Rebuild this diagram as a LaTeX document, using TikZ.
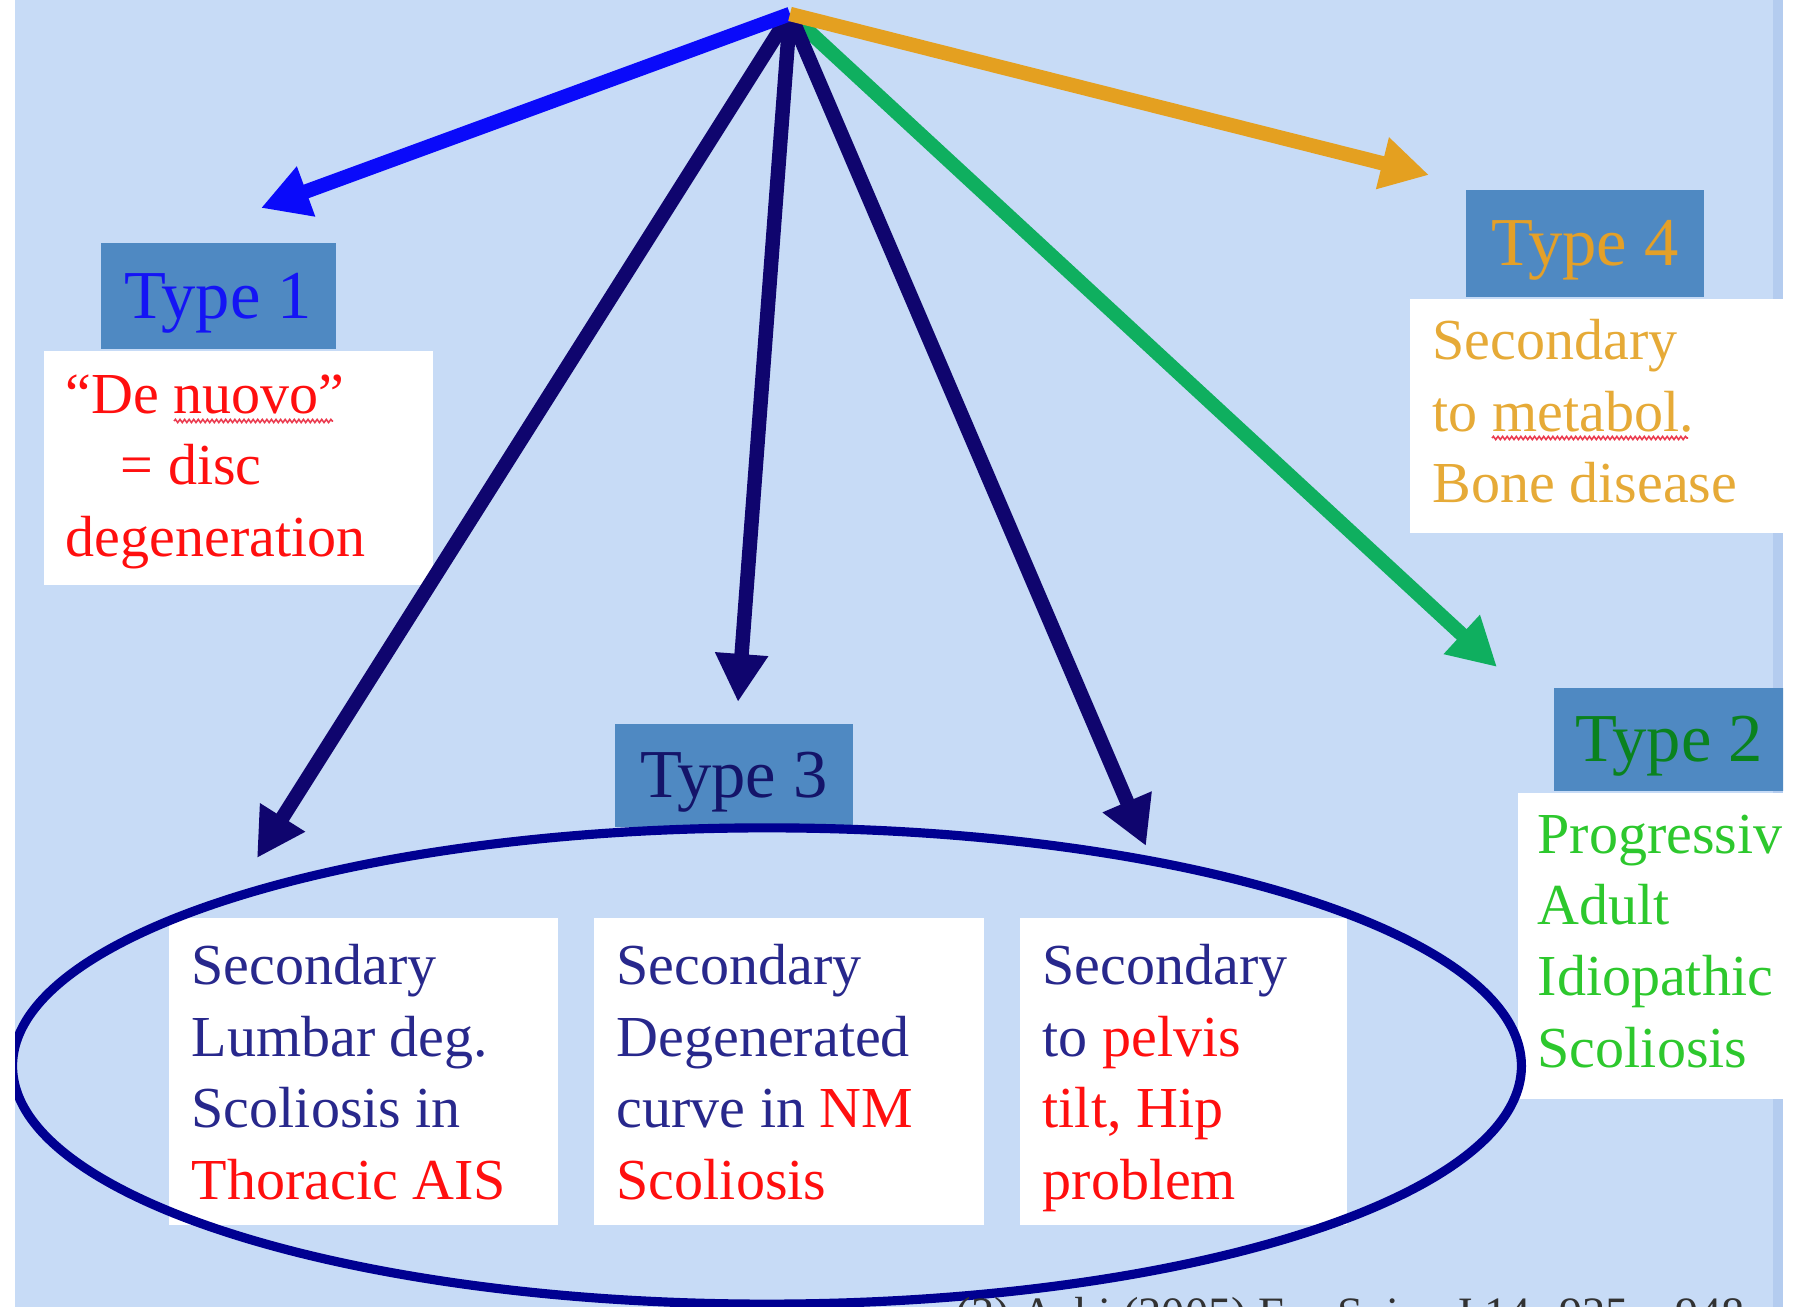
\documentclass[tikz,border=0pt]{standalone}
\usepackage{fontspec}
\setmainfont{Liberation Serif}
\usetikzlibrary{arrows.meta,decorations.pathmorphing,shapes.geometric}

\definecolor{panelblue}{RGB}{199,219,246}
\definecolor{paneledge}{RGB}{180,204,239}
\definecolor{typeblue}{RGB}{79,137,194}
\definecolor{navyarrow}{RGB}{15,5,110}
\definecolor{ellnavy}{RGB}{0,0,145}
\definecolor{bluearrow}{RGB}{10,10,250}
\definecolor{orangearrow}{RGB}{228,160,32}
\definecolor{greenarrow}{RGB}{15,175,95}
\definecolor{labblue}{RGB}{20,20,245}
\definecolor{laborange}{RGB}{228,160,40}
\definecolor{labgreen}{RGB}{10,130,30}
\definecolor{labnavy}{RGB}{20,20,105}
\definecolor{bodyred}{RGB}{255,15,15}
\definecolor{bodyorange}{RGB}{230,170,55}
\definecolor{bodygreen}{RGB}{45,200,45}
\definecolor{bodynavy}{RGB}{40,40,140}
\definecolor{squigred}{RGB}{235,60,80}
\definecolor{citegray}{RGB}{50,50,50}

\begin{document}
\begin{tikzpicture}[x=0.01cm,y=-0.01cm,
  typebox/.style={fill=typeblue, draw=none, inner sep=0pt, anchor=north west,
    font=\fontsize{19.5}{23}\selectfont, text height=12.9pt, text depth=0pt},
  whitebox/.style={fill=white, draw=none, inner sep=0pt, anchor=north west},
  bodytext/.style={anchor=north west, inner sep=0pt, align=left,
    font=\fontsize{16.5}{20.3}\selectfont},
  arr/.style={line width=4.1pt, -{Triangle[length=0.48cm,width=0.5cm]}},
  squig/.style={draw=squigred, line width=0.45pt, decorate,
    decoration={snake, amplitude=0.45pt, segment length=1.3pt}},
  grp/.style={draw=ellnavy, line width=2.6pt, ellipse, inner sep=0pt}
]
\useasboundingbox (0,0) rectangle (1793,1307);
\fill[white] (0,0) rectangle (1793,1307);
\fill[panelblue] (15,0) rectangle (1783,1307);
\fill[paneledge] (1773,0) rectangle (1783,1307);

\begin{scope}
\clip (15,0) rectangle (1783,1307);

% Type 1
\node[typebox, minimum width=2.35cm, minimum height=1.06cm, text=labblue] (t1) at (100,242) {Type 1};
\node[whitebox, minimum width=3.89cm, minimum height=2.34cm] (t1b) at (43,350) {};
\node[bodytext, text=bodyred] (t1t) at (65,374) {“De nuovo”\\\hspace*{0.95em}= disc\\degeneration};
\draw[squig] (174,421) -- (333,421);

% Type 4
\node[typebox, minimum width=2.38cm, minimum height=1.07cm, text=laborange] (t4) at (1465,189) {Type 4};
\node[whitebox, minimum width=3.75cm, minimum height=2.34cm] (t4b) at (1409,298) {};
\node[bodytext, text=bodyorange] (t4t) at (1432,319) {Secondary\\to metabol.\\Bone disease};
\draw[squig] (1492,438) -- (1688,438);

% Type 2
\node[typebox, minimum width=2.31cm, minimum height=1.03cm, text=labgreen] (t2) at (1553,687) {Type 2};
\node[whitebox, minimum width=2.67cm, minimum height=3.06cm] (t2b) at (1517,792) {};
\node[bodytext, text=bodygreen] (t2t) at (1537,814) {Progressive\\Adult\\Idiopathic\\Scoliosis};

% Type 3
\node[typebox, minimum width=2.38cm, minimum height=1.03cm, text=labnavy] (t3) at (614,723) {Type 3};
\node[whitebox, minimum width=3.89cm, minimum height=3.07cm] (ba) at (168,917) {};
\node[whitebox, minimum width=3.90cm, minimum height=3.07cm] (bb) at (593,917) {};
\node[whitebox, minimum width=3.27cm, minimum height=3.07cm] (bc) at (1019,917) {};
\node[bodytext, text=bodynavy] (bat) at (191,944) {Secondary\\Lumbar deg.\\Scoliosis in\\\textcolor{bodyred}{Thoracic AIS}};
\node[bodytext, text=bodynavy] (bbt) at (616,944) {Secondary\\Degenerated\\curve in \textcolor{bodyred}{NM}\\\textcolor{bodyred}{Scoliosis}};
\node[bodytext, text=bodynavy] (bct) at (1042,944) {Secondary\\to \textcolor{bodyred}{pelvis}\\\textcolor{bodyred}{tilt, Hip}\\\textcolor{bodyred}{problem}};
\node[grp, minimum width=15.08cm, minimum height=4.76cm] (ell) at (767,1066) {};

% citation (cut by the lower edge)
\node[anchor=base west, inner sep=0pt, text=citegray, font=\fontsize{13.2}{15}\selectfont] (cite) at (955,1330) {(2) Aebi (2005) Eur Spine J 14: 925 – 948};

% connectors
\coordinate (apex) at (790,14);
\coordinate (tipblue) at (261,208);
\coordinate (tiporange) at (1429,175);
\coordinate (tipleft) at (257,858);
\coordinate (tipmid) at (738,702);
\coordinate (tipright) at (1146,846);
\coordinate (tipgreen) at (1497,667);

\draw[arr, greenarrow] (apex) -- (tipgreen);
\draw[arr, navyarrow] (apex) -- (tipleft);
\draw[arr, navyarrow] (apex) -- (tipmid);
\draw[arr, navyarrow] (apex) -- (tipright);
\draw[arr, bluearrow] (apex) -- (tipblue);
\draw[arr, orangearrow] (apex) -- (tiporange);
\end{scope}
\end{tikzpicture}
\end{document}
